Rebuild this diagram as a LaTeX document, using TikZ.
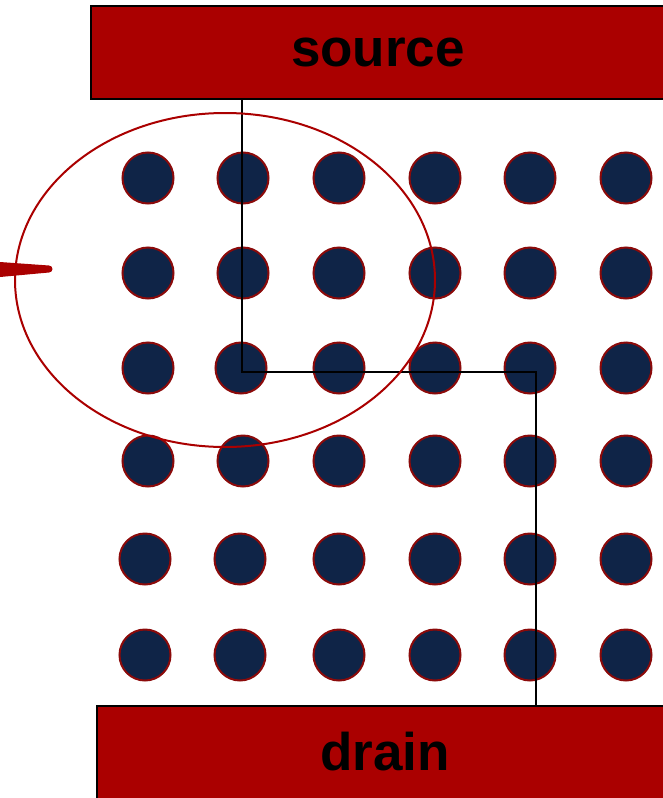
\documentclass[tikz,border=0pt]{standalone}
\usepackage{fontspec}
\setmainfont{Liberation Sans}
\definecolor{boxred}{HTML}{AA0000}
\definecolor{dotblue}{HTML}{0F2447}
\definecolor{dotrim}{HTML}{8B0A0A}
\begin{document}
\begin{tikzpicture}[x=1pt,y=-1pt,
  electrode/.style={draw=black,line width=1.8pt,fill=boxred,inner sep=0pt,outer sep=0pt,
    minimum height=93pt},
  label/.style={font=\fontsize{53}{53}\selectfont\bfseries,text=black},
  dot/.style={circle,draw=dotrim,line width=2pt,fill=dotblue,minimum size=51pt,inner sep=0pt},
  wire/.style={draw=black,line width=1.8pt}]
\useasboundingbox (0,0) rectangle (662,798);
\node[electrode,minimum width=600pt,anchor=north west] (source) at (91,6) {};
\node[label] (stext) at (378,52) {source};
\node[electrode,minimum width=600pt,anchor=north west] (drain) at (97,706) {};
\node[label] (dtext) at (385,752) {drain};
% dots
\foreach \r/\y/\xa/\xb in {1/178/148/243, 2/273/148/243, 3/368/148/241, 4/461/148/243, 5/559/145/240, 6/655/145/240}{
  \node[dot] (c-\r-1) at (\xa,\y) {};
  \node[dot] (c-\r-2) at (\xb,\y) {};
  \node[dot] (c-\r-3) at (339,\y) {};
  \node[dot] (c-\r-4) at (435,\y) {};
  \node[dot] (c-\r-5) at (530,\y) {};
  \node[dot] (c-\r-6) at (626,\y) {};
}
% conduction path
\coordinate (p0) at (242,99);
\coordinate (p1) at (242,372);
\coordinate (p2) at (536,372);
\coordinate (p3) at (536,706);
\draw[wire] (p0) -- (p1) -- (p2) -- (p3);
% ellipse
\draw[boxred,line width=2pt] (225,280) ellipse [x radius=210, y radius=167];
% pointer
\fill[boxred] (0,262) -- (49,265.5) arc[start angle=-90,end angle=90,radius=3.5] -- (0,277) -- cycle;
\end{tikzpicture}
\end{document}
